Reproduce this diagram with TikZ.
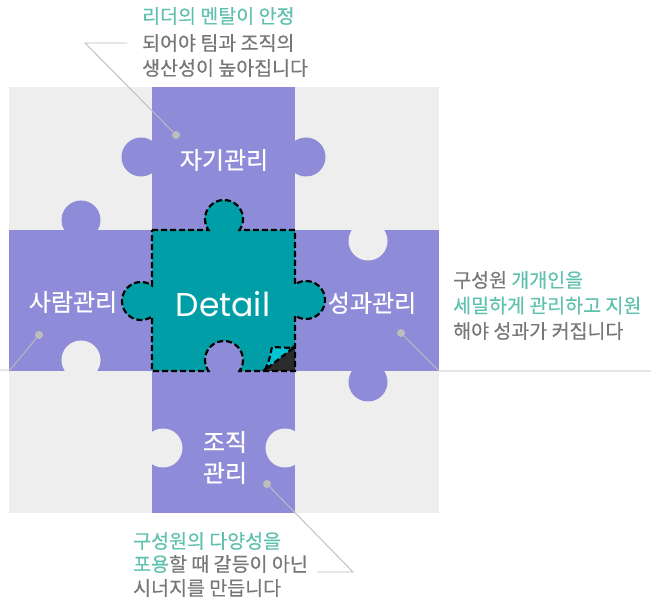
\documentclass[tikz,border=0pt]{standalone}
\usepackage{fontspec}
\newfontfamily\kr[FakeBold=0.6]{Noto Sans CJK KR}
\newfontfamily\krp[FakeBold=0.3]{Noto Sans CJK KR}
\newfontfamily\pop{Poppins}
\definecolor{bggray}{HTML}{EEEEEE}
\definecolor{pur}{HTML}{8E8CD8}
\definecolor{tealpiece}{HTML}{009EA6}
\definecolor{curlcyan}{HTML}{00C4D6}
\definecolor{curldark}{HTML}{2B2B2B}
\definecolor{txtteal}{HTML}{5FC1AE}
\definecolor{txtgray}{HTML}{777777}
\definecolor{leadgray}{HTML}{BDBDBD}
\tikzset{
  lbl/.style={text=white, font=\kr\fontsize{24}{26}\selectfont, inner sep=0pt},
  para/.style={anchor=west, inner sep=0pt, font=\krp\fontsize{19.5}{22}\selectfont},
  dot/.style={circle, fill=leadgray, minimum size=8pt, inner sep=0pt},
  leader/.style={draw=leadgray, line width=0.9pt},
  dashline/.style={draw=black, line width=2.2pt, dash pattern=on 6pt off 3pt},
}
\begin{document}
\begin{tikzpicture}[x=1pt,y=1pt]
\useasboundingbox (0,0) rectangle (651,603);
\fill[white] (0,0) rectangle (651,603);
% background grid
\fill[bggray] (9,90) rectangle (439,516);
\fill[pur] (152,90) rectangle (295,516);
\fill[pur] (9,232) rectangle (439,373);
% purple knobs
\fill[pur] (141,446) circle[radius=19.5];
\fill[pur] (306,446) circle[radius=19.5];
\fill[pur] (81,383) circle[radius=19.5];
\fill[pur] (368,221) circle[radius=19.5];
% gray holes
\fill[bggray] (81,243) circle[radius=19.5];
\fill[bggray] (368,362) circle[radius=19.5];
\fill[bggray] (163,155) circle[radius=19.5];
\fill[bggray] (285,155) circle[radius=19.5];
% center piece
\def\piecepath{(152,373) -- (208.5,373) arc[start angle=215.36, end angle=-35.36, radius=19]
  -- (295,373) -- (295,318.5) arc[start angle=125.4, end angle=-125.4, radius=19]
  -- (295,232) -- (239.5,232) arc[start angle=-35.36, end angle=215.36, radius=19]
  -- (152,232) -- (152,286.5) arc[start angle=-54.6, end angle=-305.4, radius=19]
  -- cycle}
\fill[tealpiece] \piecepath;
% page curl
\fill[curldark] (295,259) -- (295,232) -- (261,232) -- cycle;
\filldraw[fill=curlcyan, dashline] (265,233) .. controls (269,242) .. (272,256) .. controls (282,256) .. (293,255) -- cycle;
\draw[dashline] \piecepath;
% labels
\node[lbl] (self) at (224,443) {자기관리};
\node[lbl] (people) at (73,301) {사람관리};
\node[lbl] (perf) at (372,300) {성과관리};
\node[lbl] (org1) at (225,161) {조직};
\node[lbl] (org2) at (225,130) {관리};
\node[text=white, font=\pop\fontsize{33}{36}\selectfont, inner sep=0pt] (detail) at (223,299) {Detail};
% leaders
\node[dot] (d1) at (176,468) {};
\coordinate (e1) at (85,560);
\coordinate (f1) at (127,560);
\draw[leader] (d1.center) -- (e1) -- (f1);
\node[dot] (d2) at (39,268) {};
\coordinate (e2) at (10,233);
\coordinate (f2) at (0,233);
\draw[leader] (d2.center) -- (e2) -- (f2);
\node[dot] (d3) at (401,270) {};
\coordinate (e3) at (439,232);
\coordinate (f3) at (651,232);
\draw[leader] (d3.center) -- (e3) -- (f3);
\node[dot] (d4) at (267,119) {};
\coordinate (e4) at (353,31);
\coordinate (f4) at (317,31);
\draw[leader] (d4.center) -- (e4) -- (f4);
% paragraphs
\node[para, text=txtteal] (t1) at (142,587) {리더의 멘탈이 안정};
\node[para, text=txtgray] (t2) at (142,560) {되어야 팀과 조직의};
\node[para, text=txtgray] (t3) at (142,535) {생산성이 높아집니다};
\node[para, text=txtgray] (r1) at (453,323) {구성원 \textcolor{txtteal}{개개인을}};
\node[para, text=txtteal] (r2) at (453,297.5) {세밀하게 관리하고 지원};
\node[para, text=txtgray] (r3) at (453,272) {해야 성과가 커집니다};
\node[para, text=txtteal] (b1) at (133,62) {구성원의 다양성을};
\node[para, text=txtgray] (b2) at (133,39) {\textcolor{txtteal}{포용}할 때 갈등이 아닌};
\node[para, text=txtgray] (b3) at (133,15) {시너지를 만듭니다};
\end{tikzpicture}
\end{document}
